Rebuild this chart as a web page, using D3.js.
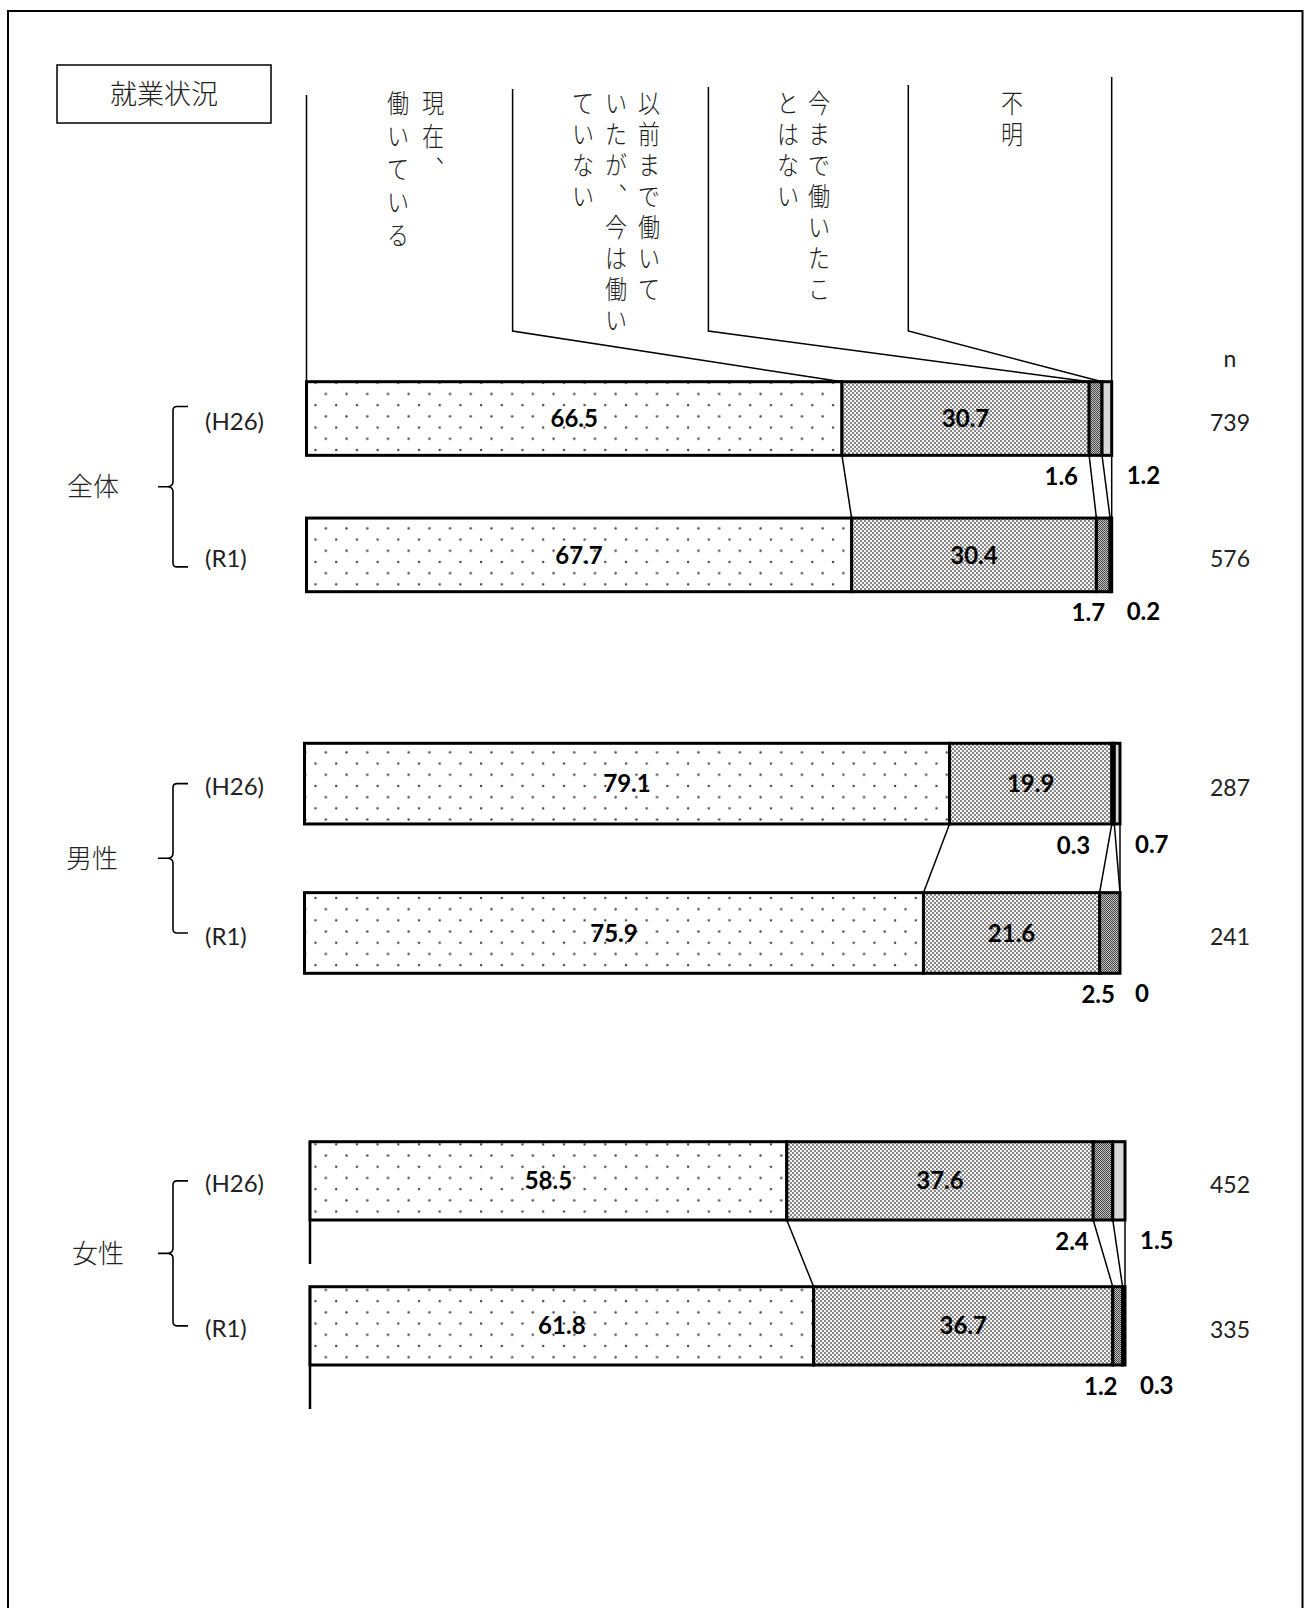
<!DOCTYPE html>
<html>
<head>
<meta charset="utf-8">
<script src="https://cdn.jsdelivr.net/npm/d3@7"></script>
<style>
body { margin: 0; background: #fff; }
svg { display: block; }
</style>
</head>
<body>
<script>
// values (%), one array per group and survey
var groups = ['全体', '男性', '女性'];
var periods = ['(H26)', '(R1)'];
var categories = ['現在、働いている', '以前まで働いていたが、今は働いていない', '今まで働いたことはない', '不明'];
var headerLines = [['現在、', '働いている'], ['以前まで働いて', 'いたが、今は働い', 'ていない'], ['今まで働いたこ', 'とはない'], ['不明']];

var totalH26 = [66.5, 30.7, 1.6, 1.2];
var totalR1 = [67.7, 30.4, 1.7, 0.2];
var maleH26 = [79.1, 19.9, 0.3, 0.7];
var maleR1 = [75.9, 21.6, 2.5, 0];
var femaleH26 = [58.5, 37.6, 2.4, 1.5];
var femaleR1 = [61.8, 36.7, 1.2, 0.3];

var nTotal = [739, 576];
var nMale = [287, 241];
var nFemale = [452, 335];

var series = [[totalH26, totalR1], [maleH26, maleR1], [femaleH26, femaleR1]];
var counts = [nTotal, nMale, nFemale];

/*
 * Layout: each group was a separate pasted chart, so each one has its own box
 */
var boxes = [
	{x0: 306.5, x1: 1111.7, top: 381.7, bottom: 591.7, ext: 12, lx: 93},
	{x0: 304.5, x1: 1120, top: 743.3, bottom: 973.3, ext: 0, lx: 92},
	{x0: 310, x1: 1125, top: 1141.7, bottom: 1365, ext: 0, lx: 98, axis: true}
];
var headLineX = [306.5, 512.6, 708.4, 908.3];
var headLineTop = [95, 89, 87, 85];
var headTextX = [433, 649, 819, 1012];
var headColGap = [35, 33, 31, 0];
var knee = 331;

var jp = '"Noto Sans CJK JP", "Noto Sans", sans-serif';
var num = 'Lato, "Noto Sans", sans-serif';

var svg = d3.select('body').append('svg')
	.attr('width', 1304).attr('height', 1608);

var defs = svg.append('defs');

// sparse dots for the first category
var p0 = defs.append('pattern').attr('id', 'pat0')
	.attr('patternUnits', 'userSpaceOnUse')
	.attr('width', 20.7).attr('height', 22.4);
p0.append('rect').attr('width', 20.7).attr('height', 22.4).style('fill', '#fff');
p0.append('circle').attr('cx', 5).attr('cy', 2).attr('r', 1.2).style('fill', '#444');
p0.append('circle').attr('cx', 15.35).attr('cy', 13.2).attr('r', 1.2).style('fill', '#444');

// fine dots
var p1 = defs.append('pattern').attr('id', 'pat1')
	.attr('patternUnits', 'userSpaceOnUse')
	.attr('width', 4).attr('height', 4);
p1.append('rect').attr('width', 4).attr('height', 4).style('fill', '#f4f4f4');
p1.append('circle').attr('cx', 1).attr('cy', 1).attr('r', 0.9).style('fill', '#555');
p1.append('circle').attr('cx', 3).attr('cy', 3).attr('r', 0.9).style('fill', '#555');

// dark checker
var p2 = defs.append('pattern').attr('id', 'pat2')
	.attr('patternUnits', 'userSpaceOnUse')
	.attr('width', 2).attr('height', 2);
p2.append('rect').attr('width', 2).attr('height', 2).style('fill', '#c4c4c4');
p2.append('rect').attr('width', 1).attr('height', 1).style('fill', '#444');
p2.append('rect').attr('x', 1).attr('y', 1).attr('width', 1).attr('height', 1).style('fill', '#444');

var fills = ['url(#pat0)', 'url(#pat1)', 'url(#pat2)', '#d9d9d9'];

// outer frame
svg.append('rect')
	.attr('x', 8).attr('y', 11)
	.attr('width', 1294.5).attr('height', 1640)
	.style('fill', 'none').style('stroke', '#000').style('stroke-width', 2);

// title box
svg.append('rect')
	.attr('x', 57).attr('y', 65).attr('width', 214).attr('height', 58)
	.style('fill', '#fff').style('stroke', '#000').style('stroke-width', 1.5);
svg.append('text')
	.attr('x', 164).attr('y', 94).attr('dy', '0.36em')
	.attr('text-anchor', 'middle')
	.style('font-family', jp).style('font-size', '27px').style('font-weight', 300)
	.style('fill', '#222')
	.text('就業状況');

// column headings, written top to bottom in a narrow face
var head = svg.append('g');
headerLines.forEach(function(lines, i) {
	lines.forEach(function(line, j) {
		head.append('text')
			.attr('transform', 'translate(' + (headTextX[i] - j * headColGap[i]) + ',90) scale(0.85,1)')
			.style('writing-mode', 'vertical-rl')
			.style('font-family', jp).style('font-size', '26px').style('font-weight', 300)
			.style('letter-spacing', (i === 0 ? 7 : 5) + 'px')
			.style('fill', '#222')
			.text(line);
	});
});

svg.append('text')
	.attr('x', 1230).attr('y', 359).attr('dy', '0.35em')
	.attr('text-anchor', 'middle')
	.style('font-family', num).style('font-size', '23px')
	.style('fill', '#222')
	.text('n');

groups.forEach(function(name, g) {
	var b = boxes[g];
	var x = d3.scaleLinear().domain([0, 100]).range([b.x0, b.x1]);
	var y = d3.scaleBand().domain(periods).range([b.top, b.bottom]).paddingInner(0.46);
	var bw = y.bandwidth();
	var cums = series[g].map(function(vals) {
		return [0].concat(Array.from(d3.cumsum(vals)));
	});
	var layer = svg.append('g');

	// heading leaders go down to the first bar of the first group
	if (g === 0) {
		var top0 = y(periods[0]);
		headLineX.forEach(function(hx, k) {
			var pts = [[hx, headLineTop[k]], [hx, knee], [x(cums[0][k]), top0]];
			if (k === 0) pts = [[hx, headLineTop[k]], [x(0), top0]];
			layer.append('path')
				.attr('d', d3.line()(pts))
				.style('fill', 'none').style('stroke', '#000').style('stroke-width', 1.5);
		});
		layer.append('line')
			.attr('x1', x(100)).attr('y1', 77)
			.attr('x2', x(100)).attr('y2', top0)
			.style('stroke', '#000').style('stroke-width', 1.5);
	}

	// links between the two survey bars
	d3.range(1, 5).forEach(function(k) {
		layer.append('line')
			.attr('x1', x(cums[0][k])).attr('y1', y(periods[0]) + bw)
			.attr('x2', x(cums[1][k])).attr('y2', y(periods[1]))
			.style('stroke', '#000').style('stroke-width', 1.5);
	});

	if (b.axis) {
		periods.forEach(function(p) {
			layer.append('line')
				.attr('x1', x(0)).attr('y1', y(p))
				.attr('x2', x(0)).attr('y2', y(p) + bw + 44)
				.style('stroke', '#000').style('stroke-width', 2.5);
		});
	}

	periods.forEach(function(p, pi) {
		var vals = series[g][pi];
		var cum = cums[pi];
		var segs = vals.map(function(v, k) {
			return {v: v, k: k, a: cum[k], b: cum[k + 1]};
		});
		var row = layer.append('g');

		row.selectAll('rect')
			.data(segs.filter(function(d) { return d.v > 0; }))
			.enter().append('rect')
			.attr('x', function(d) { return x(d.a); })
			.attr('y', y(p))
			.attr('width', function(d) { return x(d.b) - x(d.a); })
			.attr('height', bw)
			.style('fill', function(d) { return fills[d.k]; })
			.style('stroke', '#000').style('stroke-width', 3);

		// big segments: centred; small ones: below the bar
		segs.forEach(function(d) {
			var t = row.append('text')
				.style('font-family', num).style('font-size', '24px').style('font-weight', 700)
				.style('fill', '#000')
				.attr('dy', '0.36em')
				.text(d.v);
			if (d.k < 2) {
				t.attr('x', x((d.a + d.b) / 2)).attr('y', y(p) + bw / 2)
					.attr('text-anchor', 'middle');
			} else if (d.k === 2) {
				t.attr('x', x(d.b) - (pi === 0 ? 24 : 5)).attr('y', y(p) + bw + 21)
					.attr('text-anchor', 'end');
			} else {
				t.attr('x', x(100) + 15).attr('y', y(p) + bw + 20)
					.attr('text-anchor', 'start');
			}
		});

		// survey label and n
		row.append('text')
			.attr('x', 205).attr('y', y(p) + bw / 2 + 3).attr('dy', '0.36em')
			.style('font-family', num).style('font-size', '24px')
			.style('fill', '#222')
			.text(p);
		row.append('text')
			.attr('x', 1230).attr('y', y(p) + bw / 2 + 4).attr('dy', '0.36em')
			.attr('text-anchor', 'middle')
			.style('font-family', num).style('font-size', '23px')
			.style('fill', '#222')
			.text(counts[g][pi]);
	});

	// brace and group name
	var c0 = y(periods[0]) + bw / 2 - b.ext;
	var c1 = y(periods[1]) + bw / 2 + b.ext;
	var mid = (c0 + c1) / 2;
	layer.append('path')
		.attr('d', 'M188,' + c0 + ' H177 Q173,' + c0 + ' 173,' + (c0 + 4) +
			' V' + (mid - 5) + ' Q173,' + mid + ' 167,' + mid + ' H158' +
			' M167,' + mid + ' Q173,' + mid + ' 173,' + (mid + 5) +
			' V' + (c1 - 4) + ' Q173,' + c1 + ' 177,' + c1 + ' H188')
		.style('fill', 'none').style('stroke', '#000').style('stroke-width', 1.6);
	layer.append('text')
		.attr('x', b.lx).attr('y', mid).attr('dy', '0.36em')
		.attr('text-anchor', 'middle')
		.style('font-family', jp).style('font-size', '26px').style('font-weight', 300)
		.style('fill', '#222')
		.text(name);
});
</script>
</body>
</html>
